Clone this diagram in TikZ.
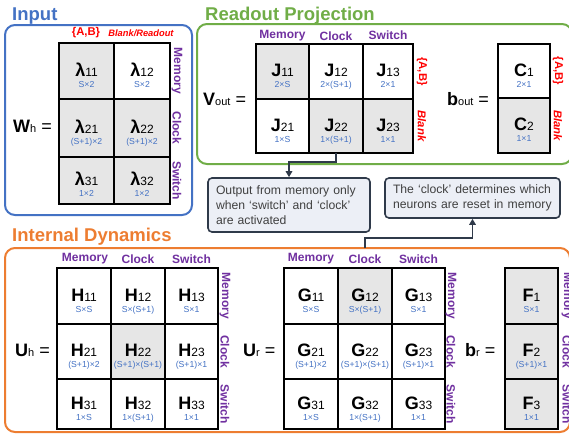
\documentclass[tikz,border=0pt]{standalone}
\usepackage{fontspec}
\setmainfont{Liberation Sans}
\usetikzlibrary{arrows.meta}
\definecolor{blueT}{HTML}{4472C4}
\definecolor{greenT}{HTML}{70AD47}
\definecolor{orangeT}{HTML}{ED7D31}
\definecolor{purp}{HTML}{7030A0}
\definecolor{redT}{HTML}{FF0000}
\definecolor{dimblue}{HTML}{4472C4}
\definecolor{cgray}{HTML}{E6E6E6}
\definecolor{callfill}{HTML}{ECEFF6}
\definecolor{calldraw}{HTML}{2F3A4A}
\definecolor{txtgray}{HTML}{404040}
\newcommand\fs[1]{\fontsize{#1}{#1}\selectfont}
\newcommand\sy[2]{#1{\mdseries\fs{12}#2}}
\newcommand\mcell[8]{%
  \node[cellbox, fill=#6, minimum width={#4-#2}, minimum height={#5-#3}] (#1) at ({(#2+#4)/2},{(#3+#5)/2}) {};
  \node[mainT] (#1m) at ({(#2+#4)/2},{(#3+#5)/2+5}) {#7};
  \node[dimT] (#1d) at ({(#2+#4)/2},{(#3+#5)/2+16}) {#8};
}
\tikzset{
  frm/.style={rounded corners=10pt, line width=2pt, inner sep=0pt, outer sep=0pt, fill=white},
  ttl/.style={anchor=base west, inner sep=0pt, font=\fs{18.5}\bfseries},
  cellbox/.style={draw=black, line width=1.3pt, inner sep=0pt, outer sep=0pt},
  mainT/.style={anchor=base, inner sep=0pt, font=\fs{18}\bfseries},
  dimT/.style={anchor=base, inner sep=0pt, font=\fs{8.7}, text=dimblue},
  hdr/.style={inner sep=0pt, font=\fs{12}\bfseries, text=purp},
  vlab/.style={hdr, rotate=-90},
  rlab/.style={inner sep=0pt, font=\fs{11.3}\bfseries, text=redT, rotate=-90},
  rlabi/.style={inner sep=0pt, font=\fs{11.3}\bfseries\itshape, text=redT, rotate=-90},
  eqlab/.style={anchor=base west, inner sep=0pt, font=\fs{18}},
  cbox/.style={draw=calldraw, fill=callfill, line width=1.6pt, rounded corners=4pt, inner sep=0pt,
    font=\fontsize{12.2}{15}\selectfont, text=txtgray, align=left},
  conn/.style={draw=calldraw, line width=1.6pt, -{Triangle[length=6pt,width=6.5pt]}}
}
\begin{document}
\begin{tikzpicture}[x=1pt,y=-1pt]
\useasboundingbox (0,0) rectangle (569,434);
\clip (0,0) rectangle (569,434);
% frames
\node[frm, draw=blueT, minimum width=187, minimum height=190] (inbox) at (98.5,120) {};
\node[frm, draw=greenT, minimum width=375, minimum height=140] (robox) at (384.5,94) {};
\node[frm, draw=orangeT, minimum width=565, minimum height=184] (dyn) at (287.5,340) {};
\node[ttl, text=blueT] (tIn) at (12,20) {Input};
\node[ttl, text=greenT] (tRo) at (205,20) {Readout Projection};
\node[ttl, text=orangeT] (tId) at (12,241) {Internal Dynamics};

% ---------- Input W_h ----------
\mcell{W11}{59}{43}{114}{99}{cgray}{\sy{λ}{11}}{S×2}
\mcell{W12}{114}{43}{170}{99}{white}{\sy{λ}{12}}{S×2}
\mcell{W21}{59}{99}{114}{157}{cgray}{\sy{λ}{21}}{(S+1)×2}
\mcell{W22}{114}{99}{170}{157}{cgray}{\sy{λ}{22}}{(S+1)×2}
\mcell{W31}{59}{157}{114}{204}{cgray}{\sy{λ}{31}}{1×2}
\mcell{W32}{114}{157}{170}{204}{cgray}{\sy{λ}{32}}{1×2}
\node[inner sep=0pt, font=\fs{11.3}\bfseries, text=redT] (wab) at (86,33) {\{A,B\}};
\node[inner sep=0pt, font=\fs{9.3}\bfseries\itshape, text=redT] (wbr) at (141,33) {Blank/Readout};
\node[vlab] (wm) at (177,71) {Memory};
\node[vlab] (wc) at (177,128) {Clock};
\node[vlab] (ws) at (177,180.5) {Switch};
\node[eqlab] (Wh) at (13,132) {\textbf{W}{\fs{11}h} =};

% ---------- Readout V_out ----------
\mcell{J11}{256}{44}{309}{99}{cgray}{\sy{J}{11}}{2×S}
\mcell{J12}{309}{44}{363}{99}{white}{\sy{J}{12}}{2×(S+1)}
\mcell{J13}{363}{44}{413}{99}{white}{\sy{J}{13}}{2×1}
\mcell{J21}{256}{99}{309}{153}{white}{\sy{J}{21}}{1×S}
\mcell{J22}{309}{99}{363}{153}{cgray}{\sy{J}{22}}{1×(S+1)}
\mcell{J23}{363}{99}{413}{153}{cgray}{\sy{J}{23}}{1×1}
\node[hdr] (vhm) at (282.5,36) {Memory};
\node[hdr] (vhc) at (336,36) {Clock};
\node[hdr] (vhs) at (388,35) {Switch};
\node[rlab] (vab) at (422,71.5) {\{A,B\}};
\node[rlabi] (vbl) at (422,126) {Blank};
\node[eqlab] (Vout) at (203,105) {\textbf{V}{\fs{11}out} =};

% ---------- b_out ----------
\mcell{C1}{498}{44}{550}{98}{white}{\sy{C}{1}}{2×1}
\mcell{C2}{498}{98}{550}{153}{cgray}{\sy{C}{2}}{1×1}
\node[rlab] (cab) at (558,71) {\{A,B\}};
\node[rlabi] (cbl) at (558,125.5) {Blank};
\node[eqlab] (bout) at (447,105) {\textbf{b}{\fs{11}out} =};

% ---------- callouts ----------
\node[cbox, minimum width=162, minimum height=54, text width=146pt] (box1) at (289,205)
  {\makebox[146pt][s]{Output from memory only}\\\makebox[146pt][s]{when ‘switch’ and ‘clock’}\\are activated};
\node[cbox, minimum width=175, minimum height=40, text width=159pt] (box2) at (472.5,198)
  {The ‘clock’ determines which\\neurons are reset in memory};

% ---------- U_h ----------
\mcell{H11}{57}{268}{111}{324}{white}{\sy{H}{11}}{S×S}
\mcell{H12}{111}{268}{165}{324}{white}{\sy{H}{12}}{S×(S+1)}
\mcell{H13}{165}{268}{218}{324}{white}{\sy{H}{13}}{S×1}
\mcell{H21}{57}{324}{111}{379}{white}{\sy{H}{21}}{(S+1)×2}
\mcell{H22}{111}{324}{165}{379}{cgray}{\sy{H}{22}}{(S+1)×(S+1)}
\mcell{H23}{165}{324}{218}{379}{white}{\sy{H}{23}}{(S+1)×1}
\mcell{H31}{57}{379}{111}{429}{white}{\sy{H}{31}}{1×S}
\mcell{H32}{111}{379}{165}{429}{white}{\sy{H}{32}}{1×(S+1)}
\mcell{H33}{165}{379}{218}{429}{white}{\sy{H}{33}}{1×1}
\node[hdr] (hhm) at (85,259) {Memory};
\node[hdr] (hhc) at (138,259) {Clock};
\node[hdr] (hhs) at (191.5,259) {Switch};
\node[vlab] (hm) at (225,296) {Memory};
\node[vlab] (hc) at (225,351.5) {Clock};
\node[vlab] (hs) at (225,404) {Switch};
\node[eqlab] (Uh) at (15,356) {\textbf{U}{\fs{11}h} =};

% ---------- U_r ----------
\mcell{G11}{284}{268}{338}{324}{white}{\sy{G}{11}}{S×S}
\mcell{G12}{338}{268}{392}{324}{cgray}{\sy{G}{12}}{S×(S+1)}
\mcell{G13}{392}{268}{445}{324}{white}{\sy{G}{13}}{S×1}
\mcell{G21}{284}{324}{338}{379}{white}{\sy{G}{21}}{(S+1)×2}
\mcell{G22}{338}{324}{392}{379}{white}{\sy{G}{22}}{(S+1)×(S+1)}
\mcell{G23}{392}{324}{445}{379}{white}{\sy{G}{23}}{(S+1)×1}
\mcell{G31}{284}{379}{338}{429}{white}{\sy{G}{31}}{1×S}
\mcell{G32}{338}{379}{392}{429}{white}{\sy{G}{32}}{1×(S+1)}
\mcell{G33}{392}{379}{445}{429}{white}{\sy{G}{33}}{1×1}
\node[hdr] (ghm) at (311,259) {Memory};
\node[hdr] (ghc) at (365,259) {Clock};
\node[hdr] (ghs) at (418.5,259) {Switch};
\node[vlab] (gm) at (451,296) {Memory};
\node[vlab] (gc) at (451,351.5) {Clock};
\node[vlab] (gs) at (451,404) {Switch};
\node[eqlab] (Ur) at (243,356) {\textbf{U}{\fs{11}r} =};

% ---------- b_r ----------
\mcell{F1}{505}{268}{558}{324}{cgray}{\sy{F}{1}}{S×1}
\mcell{F2}{505}{324}{558}{379}{cgray}{\sy{F}{2}}{(S+1)×1}
\mcell{F3}{505}{379}{558}{429}{cgray}{\sy{F}{3}}{1×1}
\node[vlab] (fm) at (567,296) {Memory};
\node[vlab] (fc) at (567,351.5) {Clock};
\node[vlab] (fs) at (567,404) {Switch};
\node[eqlab] (br) at (465,356) {\textbf{b}{\fs{11}r} =};

% ---------- connectors ----------
\draw[conn] (J22.south) -- ++(0,9) -| (box1.north);
\draw[conn] (G12.north |- dyn.north) -- ++(0,-10) -| (box2.south);
\end{tikzpicture}
\end{document}
